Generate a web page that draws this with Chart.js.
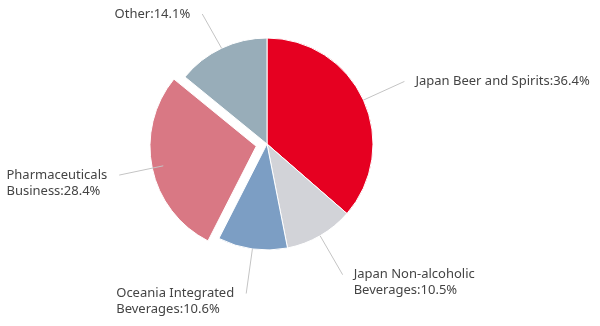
<!DOCTYPE html>
<html>
<head>
<meta charset="utf-8">
<script src="https://cdn.jsdelivr.net/npm/chart.js@4"></script>
<style>
  html, body { margin: 0; padding: 0; background: #fff; }
  #wrap { width: 600px; height: 326px; }
</style>
</head>
<body>
<div id="wrap"><canvas id="pieChart" width="600" height="326"></canvas></div>
<script>
/* DATA */
const segments = ["Japan Beer and Spirits", "Japan Non-alcoholic Beverages", "Oceania Integrated Beverages", "Pharmaceuticals Business", "Other"];
const labelLines = [
  ["Japan Beer and Spirits"],
  ["Japan Non-alcoholic", "Beverages"],
  ["Oceania Integrated", "Beverages"],
  ["Pharmaceuticals", "Business"],
  ["Other"]
];
const shares = [36.4, 10.5, 10.6, 28.4, 14.1];
const colors = ["#e60021", "#d2d3d8", "#7c9ec4", "#d97884", "#98adb9"];
// chart.js moves an arc out by offset/4
const offsets = [0, 0, 0, 44, 0];

/* Outside labels with leader lines */
const outsideLabels = {
  id: "outsideLabels",
  afterDatasetsDraw(chart) {
    const ctx = chart.ctx;
    const arcs = chart.getDatasetMeta(0).data;
    ctx.save();
    ctx.font = "13px 'Noto Sans'";
    ctx.textBaseline = "middle";
    arcs.forEach((arc, i) => {
      const p = arc.getProps(["x", "y", "startAngle", "endAngle", "outerRadius"], true);
      const mid = (p.startAngle + p.endAngle) / 2;
      const r1 = p.outerRadius;
      const r2 = p.outerRadius + 45;
      const x1 = p.x + Math.cos(mid) * r1, y1 = p.y + Math.sin(mid) * r1;
      const x2 = p.x + Math.cos(mid) * r2;
      const y2 = Math.max(p.y + Math.sin(mid) * r2, 14); // keep top label inside

      ctx.strokeStyle = "#c4c4c4";
      ctx.lineWidth = 1;
      ctx.beginPath();
      ctx.moveTo(x1, y1);
      ctx.lineTo(x2, y2);
      ctx.stroke();

      const lines = labelLines[i].slice();
      lines[lines.length - 1] += ":" + shares[i].toFixed(1) + "%";
      ctx.fillStyle = "#444";
      ctx.textAlign = "left";
      let left;
      if (x2 >= p.x) {
        left = x2 + 11;
      } else {
        const w = Math.max(...lines.map(l => ctx.measureText(l).width));
        left = x2 - 12 - w;
      }
      lines.forEach((l, k) => ctx.fillText(l, left, y2 + k * 16));
    });
    ctx.restore();
  }
};

new Chart(document.getElementById("pieChart"), {
  type: "pie",
  data: {
    labels: segments,
    datasets: [{
      data: shares,
      backgroundColor: colors,
      borderColor: "#fff",
      borderWidth: 1,
      offset: offsets
    }]
  },
  options: {
    responsive: false,
    animation: false,
    events: [],
    radius: 106,
    layout: { padding: { left: 0, right: 66, top: 0, bottom: 38 } },
    plugins: {
      legend: { display: false },
      tooltip: { enabled: false }
    }
  },
  plugins: [outsideLabels]
});
</script>
</body>
</html>
